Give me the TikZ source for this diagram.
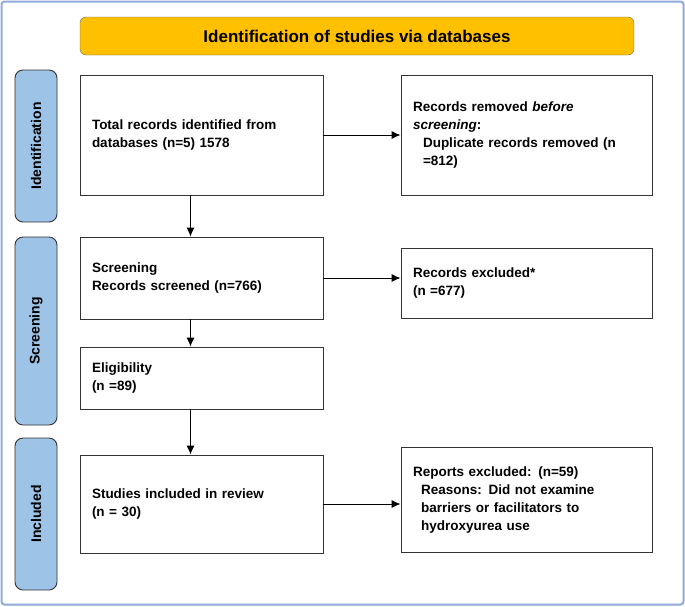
\documentclass[tikz,border=0pt]{standalone}
\usepackage{fontspec}
\setmainfont{Liberation Sans}
\usetikzlibrary{positioning,arrows.meta}
\definecolor{titlefill}{HTML}{FFC000}
\definecolor{sidefill}{HTML}{9DC3E6}
\definecolor{framecol}{HTML}{8FAADC}
\tikzstyle{stagebox}=[draw=black!80,line width=0.9pt,fill=sidefill,rounded corners=8pt,minimum width=42pt,inner sep=0pt]
\tikzstyle{stagetext}=[rotate=90,font=\bfseries\fontsize{14}{16}\selectfont]
\tikzstyle{box}=[draw=black!80,line width=0.9pt,fill=white,font=\bfseries\fontsize{13.5}{18}\selectfont,align=left,inner xsep=12pt,inner ysep=0pt]
\tikzstyle{edge}=[draw,line width=0.9pt,-{Latex[length=9pt,width=8pt]}]
\begin{document}
\begin{tikzpicture}[x=1pt,y=-1pt]
     \useasboundingbox (0,0) rectangle (685,606);
     \draw[framecol,line width=2pt,rounded corners=3pt] (1.5,1.5) rectangle (683.5,604.5);
     % Title and stage labels
     \node[draw=black!60,fill=titlefill,rounded corners=6pt,minimum width=554pt,minimum height=38pt,
       font=\bfseries\fontsize{17}{20}\selectfont] (title) at (357,36) {Identification of studies via databases};
     \foreach \y/\h/\name in {146/152/ident, 331/188/screen, 514/152/incl}
     \node[stagebox,minimum height=\h pt] (\name) at (36,\y) {};
     \foreach \name/\txt in {ident/Identification, screen/Screening, incl/Included}
     \node[stagetext] at (\name) {\txt};
     % Left column
     \node[box,text width=219pt,minimum height=120pt] (total) at (201.5,135)
       {Total records identified from\\databases (n=5) 1578\\[16pt]};
     \node[box,text width=219pt,minimum height=82pt] (screening) at (201.5,278)
       {Screening\\Records screened (n=766)\\[4pt]};
     \node[box,text width=219pt,minimum height=62pt] (elig) at (201.5,378)
       {Eligibility\\(n =89)};
     \node[box,text width=219pt,minimum height=98pt] (studies) at (201.5,504)
       {Studies included in review\\(n = 30)};
     % Right column
     \node[box,text width=227pt,minimum height=120pt] (removed) at (526.5,135)
       {Records removed \textit{before}\\\textit{screening}:\\\hspace{10pt}Duplicate records removed (n\\\hspace{10pt}=812)};
     \node[box,text width=227pt,minimum height=70pt] (excluded) at (526.5,283)
       {Records excluded*\\(n =677)};
     \node[box,text width=227pt,minimum height=105pt] (reports) at (526.5,499.5)
       {Reports excluded: (n=59)\\\hspace{8pt}Reasons: Did not examine\\\hspace{8pt}barriers or facilitators to\\\hspace{8pt}hydroxyurea use};
     % Connect boxes
     \foreach \source/\dest in {total/screening, screening/elig, elig/studies}
     \path[edge] ([xshift=-11pt]\source.south) -- ([xshift=-11pt]\dest.north);
     \path[edge] (total.east) -- (removed.west);
     \path[edge] (screening.east) -- (screening.east -| excluded.west);
     \path[edge] (studies.east) -- (studies.east -| reports.west);
\end{tikzpicture}
\end{document}
